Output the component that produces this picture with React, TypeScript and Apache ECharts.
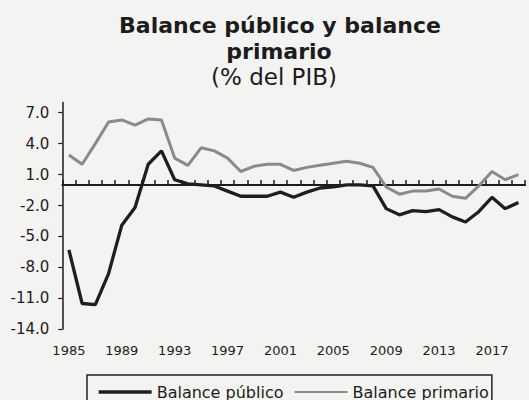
import React, { useEffect, useRef } from "react";
import * as echarts from "echarts";

const years = [
  "1985", "1986", "1987", "1988", "1989", "1990", "1991", "1992", "1993", "1994",
  "1995", "1996", "1997", "1998", "1999", "2000", "2001", "2002", "2003", "2004",
  "2005", "2006", "2007", "2008", "2009", "2010", "2011", "2012", "2013", "2014",
  "2015", "2016", "2017", "2018", "2019",
];

const balancePublico = [
  -6.3, -11.5, -11.6, -8.6, -3.9, -2.2, 2.0, 3.3, 0.5, 0.1,
  0.0, -0.1, -0.6, -1.1, -1.1, -1.1, -0.7, -1.2, -0.7, -0.3,
  -0.2, 0.0, 0.0, -0.1, -2.3, -2.9, -2.5, -2.6, -2.4, -3.1,
  -3.6, -2.6, -1.2, -2.3, -1.7,
];

const balancePrimario = [
  2.9, 2.0, 4.0, 6.1, 6.3, 5.8, 6.4, 6.3, 2.6, 1.9,
  3.6, 3.3, 2.6, 1.3, 1.8, 2.0, 2.0, 1.4, 1.7, 1.9,
  2.1, 2.3, 2.1, 1.7, -0.2, -0.9, -0.6, -0.6, -0.4, -1.1,
  -1.3, -0.1, 1.3, 0.5, 1.0,
];

const yTicks = [-14, -11, -8, -5, -2, 1, 4, 7];

const titleLine1 = "Balance público y balance";
const titleLine2 = "primario";
const subtitle = "(% del PIB)";

const FONT = "DejaVu Sans";
const INK = "#1c1c1c";

export default function App() {
  const ref = useRef<HTMLDivElement>(null);

  useEffect(() => {
    if (!ref.current) return;
    const chart = echarts.init(ref.current, undefined, { renderer: "svg" });
    chart.setOption({
      animation: false,
      backgroundColor: "#f3f3f1",
      textStyle: { fontFamily: FONT },
      graphic: [
        {
          type: "text",
          x: 280,
          y: 25.5,
          style: {
            text: titleLine1,
            align: "center",
            verticalAlign: "middle",
            font: `bold 22px "${FONT}"`,
            fill: INK,
          },
        },
        {
          type: "text",
          x: 279,
          y: 51.5,
          style: {
            text: titleLine2,
            align: "center",
            verticalAlign: "middle",
            font: `bold 22px "${FONT}"`,
            fill: INK,
          },
        },
        {
          type: "text",
          x: 274,
          y: 77,
          style: {
            text: subtitle,
            align: "center",
            verticalAlign: "middle",
            font: `23px "${FONT}"`,
            fill: INK,
          },
        },
      ],
      legend: {
        left: 87,
        top: 375,
        padding: [9, 3, 9, 10],
        itemWidth: 53,
        itemHeight: 14,
        itemGap: 10,
        borderColor: "#222",
        borderWidth: 1.5,
        borderRadius: 0,
        itemStyle: { opacity: 0 },
        textStyle: { fontFamily: FONT, fontSize: 16, color: INK },
        data: [
          { name: "Balance público", lineStyle: { width: 3.3 } },
          { name: "Balance primario", lineStyle: { width: 2.2 } },
        ],
      },
      grid: {
        left: 62.3,
        right: 4,
        top: 102.4,
        bottom: 70.7,
        containLabel: false,
      },
      xAxis: [
        {
          type: "category",
          data: years,
          position: "top",
          boundaryGap: true,
          axisLine: { onZero: true, lineStyle: { color: INK, width: 2 } },
          axisTick: {
            show: true,
            interval: 0,
            inside: false,
            length: 5,
            lineStyle: { color: INK, width: 1.5 },
          },
          axisLabel: { show: false },
          splitLine: { show: false },
        },
        {
          type: "category",
          data: years,
          position: "bottom",
          boundaryGap: true,
          axisLine: { show: false, onZero: false },
          axisTick: { show: false },
          axisLabel: {
            interval: 3,
            margin: 15,
            fontSize: 13,
            fontFamily: FONT,
            color: INK,
          },
          splitLine: { show: false },
        },
      ],
      yAxis: {
        type: "value",
        min: -14,
        max: 8,
        interval: 3,
        axisLine: {
          show: true,
          onZero: false,
          lineStyle: { color: INK, width: 1.5 },
        },
        axisTick: {
          show: true,
          length: 4,
          customValues: yTicks,
          lineStyle: { color: INK, width: 1.2 },
        },
        axisLabel: {
          customValues: yTicks,
          margin: 13,
          fontSize: 15,
          fontFamily: FONT,
          color: INK,
          formatter: (v: number) => (yTicks.includes(v) ? v.toFixed(1) : ""),
        },
        splitLine: { show: false },
      },
      series: [
        {
          name: "Balance primario",
          type: "line",
          xAxisIndex: 0,
          data: balancePrimario,
          symbol: "none",
          lineStyle: { color: "#8a8a8a", width: 3 },
          itemStyle: { color: "#8a8a8a" },
          z: 3,
        },
        {
          name: "Balance público",
          type: "line",
          xAxisIndex: 0,
          data: balancePublico,
          symbol: "none",
          lineStyle: { color: "#1e1e1e", width: 3.3 },
          itemStyle: { color: "#1e1e1e" },
          z: 4,
        },
      ],
    });
    return () => chart.dispose();
  }, []);

  return (
    <div
      ref={ref}
      style={{ position: "fixed", left: 0, top: 0, width: 529, height: 400 }}
    />
  );
}
